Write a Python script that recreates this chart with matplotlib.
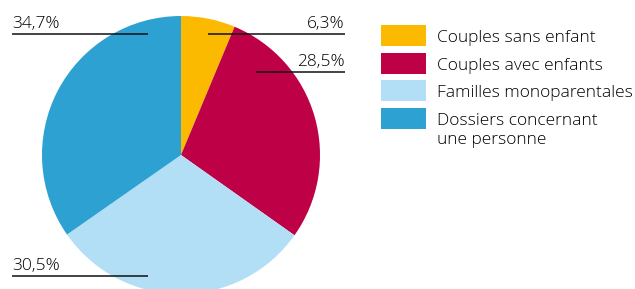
import matplotlib
matplotlib.use("Agg")
import matplotlib.pyplot as plt
from matplotlib.patches import Rectangle

plt.rcParams['font.family'] = ['Open Sans', 'DejaVu Sans']

# data
categories = ["Couples sans enfant", "Couples avec enfants",
              "Familles monoparentales", "Dossiers concernant\nune personne"]
values = [6.3, 28.5, 30.5, 34.7]
colors = ["#FBBA00", "#BE0046", "#B2DFF5", "#2DA2D2"]

W, H = 635, 289
fig = plt.figure(figsize=(W / 100, H / 100), dpi=100)
ax = fig.add_axes([0, 0, 1, 1])

# pie, pixel coords with y going up
cx, cy, r = 181, H - 155, 139
ax.pie(values, colors=colors, startangle=90, counterclock=False,
       center=(cx, cy), radius=r, frame=True,
       wedgeprops=dict(linewidth=0))
ax.set_xlim(0, W)
ax.set_ylim(0, H)
ax.set_aspect("equal")
ax.axis("off")

# percent labels: (text x, align, line y, line x0, line x1)
label_pos = [
    (345, "right", 34, 208, 345),
    (345, "right", 72, 256, 345),
    (12, "left", 276, 12, 148),
    (12, "left", 34, 12, 148),
]
for v, (tx, ha, ly, x0, x1) in zip(values, label_pos):
    txt = "{:.1f}".format(v).replace(".", ",") + "%"
    ax.plot([x0, x1], [H - ly, H - ly], color="#111111", lw=1.1,
            solid_capstyle="butt", zorder=3)
    ax.text(tx, H - ly + 5.5, txt, ha=ha, va="baseline", fontsize=12.5,
            fontweight="light", color="#000000", zorder=4)

# legend
rows_top = [25, 53, 80, 108]
for lab, col, top in zip(categories, colors, rows_top):
    ax.add_patch(Rectangle((381, H - top - 21), 45, 21, facecolor=col,
                           edgecolor="none"))
    lines = lab.split("\n")
    for i, line in enumerate(lines):
        ax.text(437, H - (top + 17) - 19 * i, line, ha="left", va="baseline",
                fontsize=12.5, fontweight="light", color="#000000")

fig.savefig("out.png", dpi=100)
